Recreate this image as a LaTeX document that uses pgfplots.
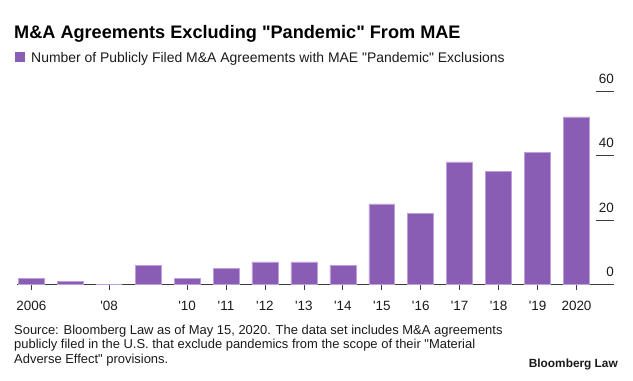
\documentclass[border=0pt]{standalone}
\usepackage{fontspec}
\setmainfont{Liberation Sans}
\usepackage{pgfplots}
\pgfplotsset{compat=1.18}
\definecolor{barfill}{HTML}{8A5DB5}
\definecolor{baredge}{HTML}{BBA0DA}
\definecolor{axisgray}{HTML}{3C3C3C}
\definecolor{txt}{HTML}{1A1A1A}
\newcommand{\q}{\textquotedbl}
\begin{document}
\begin{tikzpicture}
\begin{scope}[x=1bp,y=1bp]
\path[use as bounding box] (0,0) rectangle (633,380);
\node[anchor=base west, inner sep=0, text=black, font=\bfseries\fontsize{18.2}{20}\selectfont] at (14,342) {M\&A Agreements Excluding \q Pandemic\q{} From MAE};
\fill[barfill] (15,318) rectangle (25,328);
\node[anchor=base west, inner sep=0, text=txt, font=\fontsize{14}{16}\selectfont] at (31,317.5) {Number of Publicly Filed M\&A Agreements with MAE \q Pandemic\q{} Exclusions};
\node[anchor=base west, inner sep=0, text=txt, font=\fontsize{13}{15}\selectfont] at (14,46) {Source: Bloomberg Law as of May 15, 2020. The data set includes M\&A agreements};
\node[anchor=base west, inner sep=0, text=txt, font=\fontsize{13}{15}\selectfont] at (14,31.5) {publicly filed in the U.S. that exclude pandemics from the scope of their \q Material};
\node[anchor=base west, inner sep=0, text=txt, font=\fontsize{13}{15}\selectfont] at (14,17) {Adverse Effect\q{} provisions.};
\node[anchor=base east, inner sep=0, text=txt, font=\bfseries\fontsize{11.9}{13}\selectfont] at (618,13) {Bloomberg Law};
\end{scope}
\begin{axis}[
  at={(17bp,95.5bp)}, anchor=south west, scale only axis,
  width=597bp, height=193.5bp,
  xmin=2005.633, xmax=2020.963, ymin=0, ymax=60,
  axis x line*=bottom, axis y line=none,
  axis line style={-, draw=axisgray, line width=0.8bp},
  xtick={2006,2008,2010,2011,2012,2013,2014,2015,2016,2017,2018,2019,2020},
  xticklabels={2006,\textquotesingle08,\textquotesingle10,\textquotesingle11,\textquotesingle12,\textquotesingle13,\textquotesingle14,\textquotesingle15,\textquotesingle16,\textquotesingle17,\textquotesingle18,\textquotesingle19,2020},
  tick align=outside, major tick length=5bp,
  xtick style={draw=axisgray, line width=0.8bp},
  x tick label style={font=\fontsize{13.5}{15}\selectfont, text=txt, anchor=base, yshift=-21bp, inner sep=0pt},
  ytick=\empty,
  ybar, bar width=0.667,
  clip=false,
]
\addplot[fill=barfill, draw=baredge, line width=0.6bp] coordinates {
(2006,2) (2007,1) (2008,0) (2009,6) (2010,2) (2011,5) (2012,7) (2013,7)
(2014,6) (2015,25) (2016,22) (2017,38) (2018,35) (2019,41) (2020,52)};
\pgfplotsinvokeforeach{20,40,60}{
  \draw[axisgray, line width=0.8bp] (axis cs:2020.5,#1) -- (axis cs:2020.963,#1);
}
\pgfplotsinvokeforeach{0,20,40,60}{
  \node[anchor=base east, inner sep=0pt, yshift=8bp, text=txt, font=\fontsize{13.5}{15}\selectfont] at (axis cs:2020.963,#1) {#1};
}
\end{axis}
\end{tikzpicture}
\end{document}
